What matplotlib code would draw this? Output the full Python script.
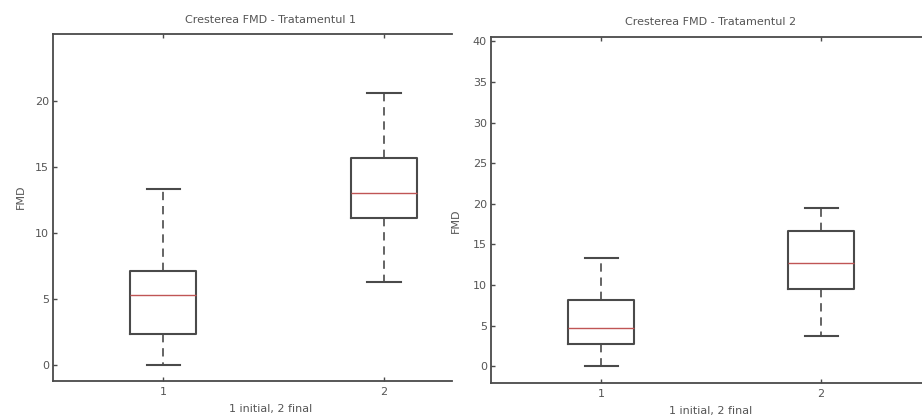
import matplotlib
matplotlib.use("Agg")
import matplotlib.pyplot as plt

# valori (boxplot: min, Q1, mediana, Q3, max)
groups = ["1", "2"]
t1_whislo = [0.0, 6.3]
t1_q1 = [2.4, 11.15]
t1_med = [5.3, 13.05]
t1_q3 = [7.1, 15.7]
t1_whishi = [13.35, 20.6]

t2_whislo = [0.0, 3.75]
t2_q1 = [2.7, 9.5]
t2_med = [4.65, 12.75]
t2_q3 = [8.15, 16.7]
t2_whishi = [13.35, 19.45]

titles = ["Cresterea FMD - Tratamentul 1", "Cresterea FMD - Tratamentul 2"]
yticks_1 = [0, 5, 10, 15, 20]
yticks_2 = [0, 5, 10, 15, 20, 25, 30, 35, 40]

plt.rcParams['font.family'] = ['DejaVu Sans']
txt_col = '#555555'
line_col = '#4a4a4a'

W, H = 922, 416
fig = plt.figure(figsize=(W / 100, H / 100), dpi=100)
fig.patch.set_facecolor('white')


def make_stats(lo, q1, med, q3, hi):
    out = []
    for i in range(len(lo)):
        out.append({'whislo': lo[i], 'q1': q1[i], 'med': med[i],
                    'q3': q3[i], 'whishi': hi[i], 'fliers': [], 'label': groups[i]})
    return out


def draw(ax, stats, title, yticks, ylim, xlim):
    ax.bxp(stats, positions=[1, 2], widths=0.3, showfliers=False,
           boxprops=dict(color=line_col, linewidth=1.5),
           whiskerprops=dict(color=line_col, linewidth=1.2, linestyle=(0, (5, 3.5))),
           capprops=dict(color=line_col, linewidth=1.5),
           medianprops=dict(color='#c05555', linewidth=1.0))
    ax.set_xlim(*xlim)
    ax.set_ylim(*ylim)
    ax.set_yticks(yticks)
    ax.set_xticks([1, 2])
    ax.set_xticklabels(groups)
    ax.tick_params(direction='in', length=3, width=1, colors=line_col,
                   labelcolor=txt_col, labelsize=8, top=True, pad=4)
    ax.tick_params(axis='y', pad=3)
    for s in ax.spines.values():
        s.set_color(line_col)
        s.set_linewidth(1.3)
    ax.set_xlabel("1 initial, 2 final", fontsize=8, color=txt_col)
    ax.set_ylabel("FMD", fontsize=8, color=txt_col)


# panoul stang (taiat in dreapta de al doilea panou)
ax1 = fig.add_axes([53 / W, (H - 381) / H, (452 - 53) / W, (381 - 34) / H])
draw(ax1, make_stats(t1_whislo, t1_q1, t1_med, t1_q3, t1_whishi),
     titles[0], yticks_1, (-1.2, 25.1), (0.5, 0.5 + (452 - 53) / 220.7))
ax1.spines['right'].set_visible(False)
ax1.set_title(titles[0], fontsize=8, color=txt_col, pad=8, x=0.545)
ax1.xaxis.set_label_coords(0.545, -0.065)
ax1.yaxis.set_label_coords(-0.068, 0.53)

# panoul drept (iese din figura in dreapta)
ax2 = fig.add_axes([491 / W, (H - 383.3) / H, (931 - 491) / W, (383.3 - 37.3) / H])
draw(ax2, make_stats(t2_whislo, t2_q1, t2_med, t2_q3, t2_whishi),
     titles[1], yticks_2, (-2.1, 40.5), (0.5, 2.5))
ax2.set_title(titles[1], fontsize=8, color=txt_col, pad=9)
ax2.xaxis.set_label_coords(0.5, -0.065)
ax2.yaxis.set_label_coords(-0.068, 0.47)

fig.savefig("out.png", dpi=100)
